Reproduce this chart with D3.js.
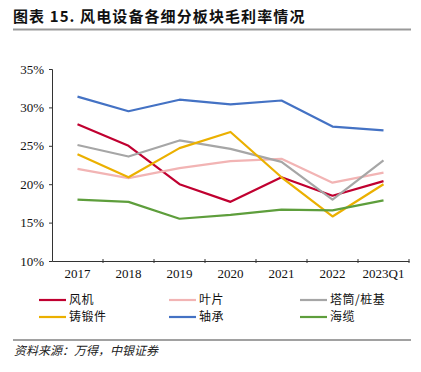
<!DOCTYPE html>
<html>
<head>
<meta charset="utf-8">
<script src="https://cdn.jsdelivr.net/npm/d3@7"></script>
<style>
  body { margin: 0; background: #fff; }
  svg { display: block; }
</style>
</head>
<body>
<svg id="chart" width="421" height="372"></svg>
<script>
// categories and series (gross margin, %)
let years = ['2017', '2018', '2019', '2020', '2021', '2022', '2023Q1'];
let fengji   = [27.8, 25.0, 20.0, 17.7, 20.9, 18.5, 20.4];
let yepian   = [22.0, 20.8, 22.1, 23.0, 23.3, 20.2, 21.5];
let tatong   = [25.1, 23.6, 25.7, 24.6, 22.9, 18.0, 23.1];
let zhuduan  = [23.9, 20.9, 24.7, 26.8, 20.9, 15.8, 20.0];
let zhoucheng = [31.4, 29.5, 31.0, 30.4, 30.9, 27.5, 27.0];
let hailan   = [18.0, 17.7, 15.5, 16.0, 16.7, 16.6, 17.9];
let yTicks = [10, 15, 20, 25, 30, 35];

let series = [
	{name: '风机', values: fengji, color: '#C00030'},
	{name: '叶片', values: yepian, color: '#F2B4B4'},
	{name: '塔筒/桩基', values: tatong, color: '#A6A6A6'},
	{name: '铸锻件', values: zhuduan, color: '#EBB000'},
	{name: '轴承', values: zhoucheng, color: '#4472C4'},
	{name: '海缆', values: hailan, color: '#5E9E3C'}
];

let svg = d3.select('#chart');
let cjk = '"Noto Sans CJK SC", sans-serif';
let serif = '"Liberation Serif", "Times New Roman", serif';

// Title
svg.append('text')
	.attr('x', 13)
	.attr('y', 22)
	.style('font-family', cjk)
	.style('font-weight', 'bold')
	.style('font-size', '15px')
	.style('letter-spacing', '1.1px')
	.attr('fill', '#111')
	.text('图表 15. 风电设备各细分板块毛利率情况');

svg.append('line')
	.attr('x1', 13).attr('x2', 411)
	.attr('y1', 29.5).attr('y2', 29.5)
	.attr('stroke', '#999')
	.attr('stroke-width', 2);

// Scales
let x = d3.scaleBand()
	.domain(years)
	.range([52, 409]);

let y = d3.scaleLinear()
	.domain([10, 35])
	.range([261, 69]);

// Axes
let yAxis = svg.append('g')
	.attr('transform', 'translate(52,0)')
	.call(d3.axisLeft(y).tickValues(yTicks).tickSize(3).tickFormat(d => d + '%'));

let xAxis = svg.append('g')
	.attr('transform', 'translate(0,261)')
	.call(d3.axisBottom(x).tickSize(0).tickPadding(8));

[yAxis, xAxis].forEach(function(g) {
	g.select('.domain').attr('stroke', '#333');
	g.selectAll('line').attr('stroke', '#333');
	g.selectAll('text')
		.style('font-family', serif)
		.style('font-size', '13px')
		.attr('fill', '#111');
});
yAxis.selectAll('text').attr('x', -8);

// x boundary ticks
svg.append('g')
	.selectAll('line')
	.data(years.slice(1).concat(['end']))
	.join('line')
	.attr('x1', (d, i) => i < years.length - 1 ? x(d) : x.range()[1])
	.attr('x2', (d, i) => i < years.length - 1 ? x(d) : x.range()[1])
	.attr('y1', 259)
	.attr('y2', 263)
	.attr('stroke', '#333');

// Lines
let lineGen = d3.line()
	.x((d, i) => x(years[i]) + x.bandwidth() / 2)
	.y(d => y(d));

svg.append('g')
	.selectAll('path')
	.data(series)
	.join('path')
	.attr('d', d => lineGen(d.values))
	.attr('fill', 'none')
	.attr('stroke', d => d.color)
	.attr('stroke-width', 2.2)
	.attr('stroke-linejoin', 'round');

// Legend
let legendX = [39, 169, 300];
let legendY = [300, 317];
let legend = svg.append('g')
	.selectAll('g')
	.data(series)
	.join('g')
	.attr('transform', (d, i) => 'translate(' + legendX[i % 3] + ',' + legendY[Math.floor(i / 3)] + ')');

legend.append('line')
	.attr('x1', 0).attr('x2', 27)
	.attr('y1', 0).attr('y2', 0)
	.attr('stroke', d => d.color)
	.attr('stroke-width', 2.2);

legend.append('text')
	.attr('x', 30)
	.attr('y', 0)
	.attr('dy', '0.36em')
	.style('font-family', cjk)
	.style('font-size', '12px')
	.style('letter-spacing', '0.5px')
	.attr('fill', '#111')
	.text(d => d.name);

// Source
svg.append('line')
	.attr('x1', 13).attr('x2', 411)
	.attr('y1', 340).attr('y2', 340)
	.attr('stroke', '#444')
	.attr('stroke-width', 1.2);

svg.append('text')
	.attr('x', 14)
	.attr('y', 355)
	.style('font-family', cjk)
	.style('font-style', 'italic')
	.style('font-size', '12px')
	.attr('fill', '#222')
	.text('资料来源：万得，中银证券');
</script>
</body>
</html>
